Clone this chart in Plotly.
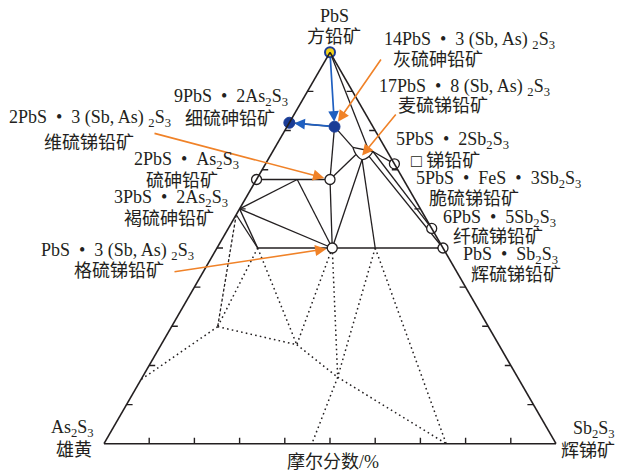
import math
import plotly.graph_objects as go

# ---------------------------------------------------------------
# Compositions are mole fractions (PbS, As2S3, Sb2S3)
# ---------------------------------------------------------------

# Marked phases
phase_names = ["PbS", "9PbS·2As2S3", "14PbS·3(Sb,As)2S3", "2PbS·As2S3",
               "2PbS·3(Sb,As)2S3", "PbS·3(Sb,As)2S3", "5PbS·2Sb2S3",
               "6PbS·5Sb2S3", "PbS·Sb2S3"]
phase_pbs = [1.00, 0.82, 0.81, 0.675, 0.675, 0.50, 0.715, 0.55, 0.50]
phase_as = [0.00, 0.18, 0.085, 0.325, 0.1625, 0.245, 0.00, 0.00, 0.00]
phase_sb = [0.00, 0.00, 0.105, 0.00, 0.1625, 0.255, 0.285, 0.45, 0.50]
phase_style = ["top", "blue", "blue", "open", "open", "open", "open", "open", "open"]

# Nodes of the solid tie-line network
node_names = ["PbS", "P9", "J14", "DUF", "M", "X", "BAU", "BAU2", "R", "Q", "T",
              "ZIN", "BOU", "G6", "K_L", "K_R", "K_TOP", "K_BL", "K_B", "K_BR"]
node_pbs = [1.00, 0.82, 0.81, 0.675, 0.675, 0.675, 0.60, 0.585, 0.50, 0.50, 0.50,
            0.50, 0.715, 0.55, 0.757, 0.7465, 0.754, 0.739, 0.726, 0.7337]
node_as = [0.00, 0.18, 0.085, 0.325, 0.1625, 0.235, 0.40, 0.415, 0.41, 0.245, 0.15,
           0.00, 0.00, 0.00, 0.071, 0.0317, 0.039, 0.073, 0.066, 0.0467]
node_sb = [0.00, 0.00, 0.105, 0.00, 0.1625, 0.09, 0.00, 0.00, 0.09, 0.255, 0.35,
           0.50, 0.285, 0.45, 0.172, 0.2218, 0.207, 0.188, 0.208, 0.2194]

tie_lines = [("P9", "J14"), ("PbS", "K_TOP"), ("J14", "K_L"), ("J14", "M"),
             ("DUF", "M"), ("X", "BAU"), ("X", "Q"), ("BAU", "Q"),
             ("BAU", "R"), ("BAU2", "R"), ("R", "Q"), ("Q", "T"), ("T", "ZIN"),
             ("M", "Q"), ("K_BL", "M"), ("K_B", "Q"), ("K_B", "T"),
             ("K_R", "BOU"), ("K_R", "G6"), ("K_BR", "ZIN")]

# Outline of the 17PbS·8(Sb,As)2S3 solid-solution field
field_chord = ["K_L", "K_R"]
field_arc = ["K_L", "K_BL", "K_B", "K_BR", "K_R"]
field_centre = (0.736, 0.061, 0.203)

# Nodes of the dotted boundary network
dot_names = ["BAU2", "R", "Q", "T", "J1", "J2", "J3", "E1", "E2", "E3"]
dot_pbs = [0.585, 0.50, 0.50, 0.50, 0.299, 0.253, 0.170, 0.164, 0.0, 0.0]
dot_as = [0.415, 0.41, 0.245, 0.15, 0.599, 0.447, 0.398, 0.836, 0.54, 0.243]
dot_sb = [0.00, 0.09, 0.255, 0.35, 0.102, 0.300, 0.432, 0.00, 0.46, 0.757]

dashed_lines = [("BAU2", "J1")]
dotted_lines = [("R", "J1"), ("J1", "E1"), ("J1", "J2"), ("R", "J2"),
                ("Q", "J2"), ("J2", "J3"), ("Q", "J3"), ("J3", "E2"),
                ("T", "J3"), ("J3", "E3"), ("T", "E3")]

# Axis tick positions (fraction along each edge)
tick_vals = [0.1, 0.2, 0.3, 0.4, 0.5, 0.6, 0.7, 0.8, 0.9]

# ---------------------------------------------------------------
FIG_W, FIG_H = 619, 472
M_L, M_R, M_T, M_B = 104, 63, 52, 28
PLOT_W = FIG_W - M_L - M_R
PLOT_H = FIG_H - M_T - M_B
TRI_W = min(PLOT_W, PLOT_H * 2 / math.sqrt(3))
TRI_H = TRI_W * math.sqrt(3) / 2
X0 = M_L + (PLOT_W - TRI_W) / 2
Y0 = M_T + (PLOT_H - TRI_H) / 2
TICK_LEN = 6

SERIF = "Liberation Serif, Times New Roman, Noto Sans CJK SC, serif"
FS_LATIN = 18
FS_CJK = 18
BLACK = "#231f20"
ORANGE = "#f08228"
BLUE = "#1f5fc0"
DARK_BLUE = "#1a3c96"


def tern_px(a, b, c):
    s = a + b + c
    a, b, c = a / s, b / s, c / s
    return X0 + TRI_W * (c + a / 2), Y0 + TRI_H * (1 - a)


def to_paper(x, y):
    return (x - M_L) / PLOT_W, 1 - (y - M_T) / PLOT_H


def lookup(names, pa, pb, pc):
    return {n: (pa[i], pb[i], pc[i]) for i, n in enumerate(names)}


nodes = lookup(node_names, node_pbs, node_as, node_sb)
dnodes = lookup(dot_names, dot_pbs, dot_as, dot_sb)


def seg_coords(pairs, table):
    a, b, c = [], [], []
    for p, q in pairs:
        for pt in (table[p], table[q]):
            a.append(pt[0]); b.append(pt[1]); c.append(pt[2])
        a.append(None); b.append(None); c.append(None)
    return a, b, c


def line_trace(a, b, c, dash="solid", width=1.3, shape="linear"):
    return go.Scatterternary(a=a, b=b, c=c, mode="lines", hoverinfo="skip",
                             line=dict(color=BLACK, width=width, dash=dash, shape=shape),
                             showlegend=False, cliponaxis=False)


fig = go.Figure()

# inward tick marks: horizontal on the two slanted edges, vertical on the base
dc = TICK_LEN / TRI_W
da = TICK_LEN / TRI_H
ta, tb, tc = [], [], []
for v in tick_vals:
    for p, q in [((v, 1 - v, 0.0), (v, 1 - v - dc, dc)),                 # left edge
                 ((v, 0.0, 1 - v), (v, dc, 1 - v - dc)),                 # right edge
                 ((0.0, 1 - v, v), (da, 1 - v - da / 2, v - da / 2))]:   # base
        for pt in (p, q):
            ta.append(pt[0]); tb.append(pt[1]); tc.append(pt[2])
        ta.append(None); tb.append(None); tc.append(None)
fig.add_trace(line_trace(ta, tb, tc, width=1.4))

fig.add_trace(line_trace(*seg_coords(dotted_lines, dnodes), dash="1.6px,3.2px", width=1.5))
fig.add_trace(line_trace(*seg_coords(dashed_lines, dnodes), dash="3px,2px", width=1.3))
fig.add_trace(line_trace(*seg_coords(tie_lines, nodes), width=1.3))
fig.add_trace(line_trace([nodes[n][0] for n in field_chord], [nodes[n][1] for n in field_chord],
                         [nodes[n][2] for n in field_chord]))
fig.add_trace(line_trace([nodes[n][0] for n in field_arc], [nodes[n][1] for n in field_arc],
                         [nodes[n][2] for n in field_arc], shape="spline"))

marker_styles = {
    "open": dict(size=10, color="white", line=dict(color=BLACK, width=1.3)),
    "blue": dict(size=11, color=DARK_BLUE, line=dict(color=DARK_BLUE, width=1)),
    "top": dict(size=10, color="#f2d21a", line=dict(color=DARK_BLUE, width=2)),
}
for style in ["open", "blue", "top"]:
    idx = [i for i, s in enumerate(phase_style) if s == style]
    fig.add_trace(go.Scatterternary(
        a=[phase_pbs[i] for i in idx], b=[phase_as[i] for i in idx],
        c=[phase_sb[i] for i in idx], text=[phase_names[i] for i in idx],
        mode="markers", marker=marker_styles[style], hoverinfo="text",
        showlegend=False, cliponaxis=False))

annotations = []


def arrow(target, tail_px, color, width=1.6, size=1.4, standoff=5):
    hx, hy = tern_px(*target)
    px, py = to_paper(hx, hy)
    annotations.append(dict(
        x=px, y=py, xref="paper", yref="paper", text="", showarrow=True,
        ax=tail_px[0] - hx, ay=tail_px[1] - hy, arrowcolor=color,
        arrowwidth=width, arrowhead=2, arrowsize=size, standoff=standoff))


def arrow_between(src, dst, color):
    sx, sy = tern_px(*src)
    arrow(dst, (sx, sy), color, width=1.7, size=1.25, standoff=5)
    annotations[-1]["startstandoff"] = 4


# blue arrows: PbS -> 14PbS·3(Sb,As)2S3 -> 9PbS·2As2S3
arrow_between(nodes["PbS"], nodes["J14"], BLUE)
arrow_between(nodes["J14"], nodes["P9"], BLUE)

# orange pointers from labels
arrow(nodes["J14"], (382, 58), ORANGE, standoff=6)
arrow(field_centre, (397, 113), ORANGE, standoff=0)
arrow(nodes["M"], (153, 133), ORANGE, standoff=6)
arrow(nodes["Q"], (173, 272), ORANGE, standoff=6)


def label(text, x, y, anchor="left", size=FS_LATIN):
    px, py = to_paper(x, y)
    annotations.append(dict(
        x=px, y=py, xref="paper", yref="paper", text=text, showarrow=False,
        xanchor=anchor, yanchor="middle",
        font=dict(family=SERIF, size=size, color=BLACK)))


def cjk(text, x, y, anchor="left"):
    label(text, x, y, anchor, FS_CJK)


S2 = "<sub>2</sub>"
S3 = "<sub>3</sub>"
SBAS = " (Sb, As) "
DOT = "\u2002•\u2002"

label("PbS", 334, 16, "center")
cjk("方铅矿", 334, 37, "center")
label(f"14PbS{DOT}3{SBAS}{S2}S{S3}", 382, 41)
cjk("灰硫砷铅矿", 391, 60)
label(f"17PbS{DOT}8{SBAS}{S2}S{S3}", 377, 87)
cjk("麦硫锑铅矿", 396, 106)
label(f"9PbS{DOT}2As{S2}S{S3}", 172, 97)
label(f"2PbS{DOT}3{SBAS}{S2}S{S3}", 7, 118)
cjk("细硫砷铅矿", 183, 119)
cjk("维硫锑铅矿", 42, 143)
label(f"2PbS{DOT}As{S2}S{S3}", 132, 160)
cjk("硫砷铅矿", 144, 181)
label(f"3PbS{DOT}2As{S2}S{S3}", 112, 198)
cjk("褐硫砷铅矿", 122, 219)
label(f"PbS{DOT}3{SBAS}{S2}S{S3}", 39, 251)
cjk("格硫锑铅矿", 72, 271)
label(f"5PbS{DOT}2Sb{S2}S{S3}", 394, 140)
cjk("□ 锑铅矿", 409, 161)
label(f"5PbS{DOT}FeS{DOT}3Sb{S2}S{S3}", 414, 180)
cjk("脆硫锑铅矿", 427, 199)
label(f"6PbS{DOT}5Sb{S2}S{S3}", 441, 218)
cjk("纤硫锑铅矿", 451, 237)
label(f"PbS{DOT}Sb{S2}S{S3}", 461, 255)
cjk("辉硫锑铅矿", 469, 275)
label(f"As{S2}S{S3}", 96, 428, "right")
cjk("雄黄", 94, 450, "right")
label(f"Sb{S2}S{S3}", 571, 429)
cjk("辉锑矿", 559, 451)
cjk("摩尔分数/%", 333, 462, "center")

axis_common = dict(showticklabels=False, ticks="", showgrid=False,
                   linecolor=BLACK, linewidth=1.6, title=dict(text=""))

fig.update_layout(
    width=FIG_W, height=FIG_H,
    margin=dict(l=M_L, r=M_R, t=M_T, b=M_B, pad=0),
    paper_bgcolor="white", plot_bgcolor="white",
    ternary=dict(sum=1, bgcolor="white", domain=dict(x=[0, 1], y=[0, 1]),
                 aaxis=axis_common, baxis=axis_common, caxis=axis_common),
    annotations=annotations,
    showlegend=False,
)

fig.write_html("out.html")
